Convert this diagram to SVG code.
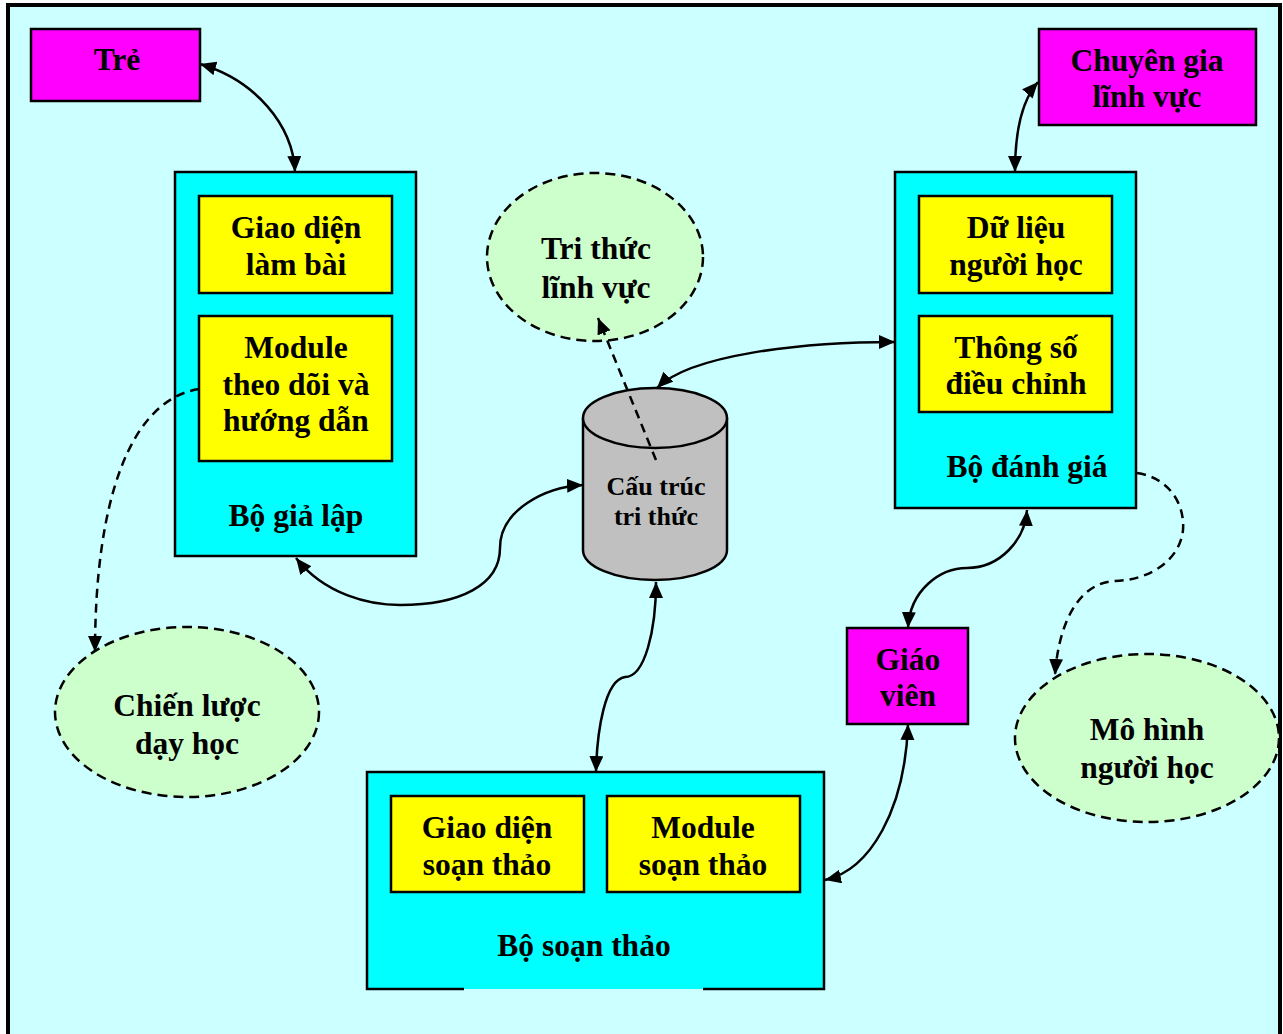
<svg xmlns="http://www.w3.org/2000/svg" width="1283" height="1034" viewBox="0 0 1283 1034">
  <style>
    .t { font-family: "Liberation Serif", "Times New Roman", serif; font-weight: bold; font-size: 31.5px; fill: #000; text-anchor: middle; }
    .ts { font-size: 26px; }
    .actor { fill: #FF00FF; stroke: #000; stroke-width: 2.5; }
    .module { fill: #00FFFF; stroke: #000; stroke-width: 2.5; }
    .part { fill: #FFFF00; stroke: #000; stroke-width: 2.5; }
    .knowledge { fill: #CCFFCC; stroke: #000; stroke-width: 2.5; stroke-dasharray: 10 6; }
    .link { fill: none; stroke: #000; stroke-width: 2.5; }
    .dash { stroke-dasharray: 9 6; }
  </style>
  <defs>
    <marker id="head" markerUnits="userSpaceOnUse" markerWidth="18" markerHeight="16" refX="16" refY="7" orient="auto-start-reverse">
      <path d="M0,0 L16,7 L0,14 z" fill="#000"/>
    </marker>
  </defs>

  <!-- page background and frame -->
  <rect x="0" y="0" width="1283" height="1034" fill="#FFFFFF"/>
  <rect x="8" y="5" width="1272" height="1040" fill="#CCFFFF" stroke="#000" stroke-width="4"/>

  <!-- actors -->
  <g id="tre">
    <rect class="actor" x="31" y="29" width="169" height="72"/>
    <text class="t" x="117" y="70">Trẻ</text>
  </g>
  <g id="chuyen-gia">
    <rect class="actor" x="1039" y="29" width="217" height="96"/>
    <text class="t" x="1147" y="71">Chuyên gia</text>
    <text class="t" x="1147" y="107">lĩnh vực</text>
  </g>
  <g id="giao-vien">
    <rect class="actor" x="847" y="628" width="121" height="96"/>
    <text class="t" x="908" y="670">Giáo</text>
    <text class="t" x="908" y="706">viên</text>
  </g>

  <!-- simulator -->
  <g id="bo-gia-lap">
    <rect class="module" x="175" y="172" width="241" height="384"/>
    <rect class="part" x="199" y="196" width="193" height="97"/>
    <text class="t" x="296" y="238">Giao diện</text>
    <text class="t" x="296" y="275">làm bài</text>
    <rect class="part" x="199" y="316" width="193" height="145"/>
    <text class="t" x="296" y="358">Module</text>
    <text class="t" x="296" y="395">theo dõi và</text>
    <text class="t" x="296" y="431">hướng dẫn</text>
    <text class="t" x="296" y="526">Bộ giả lập</text>
  </g>

  <!-- evaluator -->
  <g id="bo-danh-gia">
    <rect class="module" x="895" y="172" width="241" height="336"/>
    <rect class="part" x="919" y="196" width="193" height="97"/>
    <text class="t" x="1016" y="238">Dữ liệu</text>
    <text class="t" x="1016" y="275">người học</text>
    <rect class="part" x="919" y="316" width="193" height="96"/>
    <text class="t" x="1016" y="358">Thông số</text>
    <text class="t" x="1016" y="394">điều chỉnh</text>
    <text class="t" x="1027" y="477">Bộ đánh giá</text>
  </g>

  <!-- authoring tool -->
  <g id="bo-soan-thao">
    <rect x="367" y="772" width="457" height="217" fill="#00FFFF"/>
    <path d="M464 989 H367 V772 H824 V989 H703" fill="none" stroke="#000" stroke-width="2.5"/>
    <rect class="part" x="391" y="796" width="193" height="96"/>
    <text class="t" x="487" y="838">Giao diện</text>
    <text class="t" x="487" y="875">soạn thảo</text>
    <rect class="part" x="607" y="796" width="193" height="96"/>
    <text class="t" x="703" y="838">Module</text>
    <text class="t" x="703" y="875">soạn thảo</text>
    <text class="t" x="584" y="956">Bộ soạn thảo</text>
  </g>

  <!-- knowledge store -->
  <g id="cau-truc-tri-thuc">
    <path d="M583 418 V550 A72 30 0 0 0 727 550 V418" fill="#C0C0C0" stroke="#000" stroke-width="2.5"/>
    <ellipse cx="655" cy="418" rx="72" ry="30" fill="#C0C0C0" stroke="#000" stroke-width="2.5"/>
    <text class="t ts" x="656" y="495">Cấu trúc</text>
    <text class="t ts" x="656" y="525">tri thức</text>
  </g>

  <!-- knowledge bases -->
  <g id="tri-thuc-linh-vuc">
    <ellipse class="knowledge" cx="595" cy="257" rx="108" ry="84"/>
    <text class="t" x="596" y="259">Tri thức</text>
    <text class="t" x="596" y="298">lĩnh vực</text>
  </g>
  <g id="chien-luoc-day-hoc">
    <ellipse class="knowledge" cx="187" cy="712" rx="132" ry="85"/>
    <text class="t" x="187" y="716">Chiến lược</text>
    <text class="t" x="187" y="754">dạy học</text>
  </g>
  <g id="mo-hinh-nguoi-hoc">
    <ellipse class="knowledge" cx="1147" cy="738" rx="132" ry="84"/>
    <text class="t" x="1147" y="740">Mô hình</text>
    <text class="t" x="1147" y="778">người học</text>
  </g>

  <!-- connectors -->
  <g id="connectors">
    <path class="link" d="M200 64 C255 80 293 125 295 172" marker-start="url(#head)" marker-end="url(#head)"/>
    <path class="link" d="M1038 82 C1022 100 1015 130 1015 172" marker-start="url(#head)" marker-end="url(#head)"/>
    <path class="link" d="M296 558 C325 595 370 605 400 605 C460 605 500 585 500 548 C500 510 545 487 583 485" marker-start="url(#head)" marker-end="url(#head)"/>
    <path class="link" d="M657 388 C690 355 800 342 895 342" marker-start="url(#head)" marker-end="url(#head)"/>
    <path class="link" d="M656 582 C656 630 645 677 625 677 C605 680 597 730 596 772" marker-start="url(#head)" marker-end="url(#head)"/>
    <path class="link" d="M908 628 C910 590 940 568 967 568 C1000 568 1025 540 1027 510" marker-start="url(#head)" marker-end="url(#head)"/>
    <path class="link" d="M908 724 C905 810 870 870 825 880" marker-start="url(#head)" marker-end="url(#head)"/>
    <path class="link dash" d="M656 460 L598 318" marker-end="url(#head)"/>
    <path class="link dash" d="M199 389 C130 400 95 500 95 652" marker-end="url(#head)"/>
    <path class="link dash" d="M1137 473 C1170 478 1185 505 1183 530 C1180 560 1150 580 1115 581 C1075 583 1058 630 1055 675" marker-end="url(#head)"/>
  </g>
</svg>
